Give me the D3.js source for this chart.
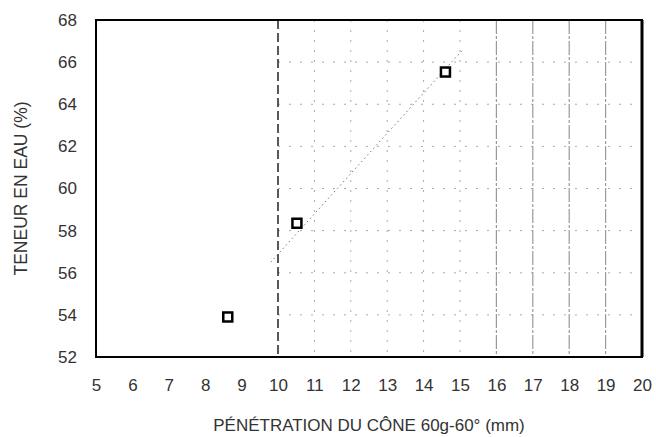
<!DOCTYPE html>
<html><head><meta charset="utf-8">
<script src="https://cdn.jsdelivr.net/npm/d3@7"></script>
<style>body{margin:0;background:#fff}svg{display:block}</style>
</head><body>
<svg id="c" width="656" height="437"></svg>
<script>
// data
const penetration = [8.62, 10.52, 14.6];
const waterContent = [53.9, 58.35, 65.53];
const trendX = [9.8, 15.05];
const trendY = [56.5, 66.54];
const xTicks = [5,6,7,8,9,10,11,12,13,14,15,16,17,18,19,20];
const yTicks = [52,54,56,58,60,62,64,66,68];
const liquidLimitX = [10];
const gridXLight = [11,12,13,14,15];
const gridXDark = [16,17,18,19];
const gridY = [54,56,58,60,62,64,66];

const svg = d3.select('#c');
const m = {l:96, r:642, t:20, b:357};
const x = d3.scaleLinear().domain([5,20]).range([m.l, m.r]);
const y = d3.scaleLinear().domain([52,68]).range([m.b, m.t]);
const font = '"Liberation Sans", Arial, sans-serif';

// grid
svg.append('g').selectAll('line').data(gridY).join('line')
  .attr('x1', x(10)).attr('x2', x(20)).attr('y1', d=>y(d)).attr('y2', d=>y(d))
  .attr('stroke', '#aaa').attr('stroke-width', 1).attr('stroke-dasharray', '2,9');
svg.append('g').selectAll('line').data(gridXLight).join('line')
  .attr('x1', d=>x(d)).attr('x2', d=>x(d)).attr('y1', y(68)).attr('y2', y(52))
  .attr('stroke', '#aaa').attr('stroke-width', 1).attr('stroke-dasharray', '2,8');
svg.append('g').selectAll('line').data(gridXDark).join('line')
  .attr('x1', d=>x(d)).attr('x2', d=>x(d)).attr('y1', y(68)).attr('y2', y(52))
  .attr('stroke', '#999').attr('stroke-width', 1.2).attr('stroke-dasharray', '14,2,3,2');

// liquid limit dashed line
svg.append('g').selectAll('line').data(liquidLimitX).join('line')
  .attr('x1', d=>x(d)).attr('x2', d=>x(d)).attr('y1', y(68)).attr('y2', y(52))
  .attr('stroke', '#222').attr('stroke-width', 1.5).attr('stroke-dasharray', '9,4');

// trend line
const tl = trendX.map((d,i)=>[d, trendY[i]]);
svg.append('path').datum(tl)
  .attr('d', d3.line().x(d=>x(d[0])).y(d=>y(d[1])))
  .attr('fill','none').attr('stroke','#777').attr('stroke-width',1).attr('stroke-dasharray','1.5,3');

// frame
svg.append('rect').attr('x', m.l).attr('y', m.t).attr('width', m.r-m.l).attr('height', m.b-m.t)
  .attr('fill','none').attr('stroke','#000').attr('stroke-width',2);
svg.append('line').attr('x1', m.r).attr('x2', m.r).attr('y1', m.t).attr('y2', m.b)
  .attr('stroke','#000').attr('stroke-width',3);

// axes
const xa = svg.append('g').attr('transform', `translate(0,${m.b})`)
  .call(d3.axisBottom(x).tickValues(xTicks).tickSize(0).tickPadding(22).tickFormat(d3.format('d')));
xa.select('.domain').remove();
xa.selectAll('text').attr('font-family', font).attr('font-size', 17).attr('fill', '#333');
const ya = svg.append('g').attr('transform', `translate(${m.l},0)`)
  .call(d3.axisLeft(y).tickValues(yTicks).tickSize(0).tickPadding(19).tickFormat(d3.format('d')));
ya.select('.domain').remove();
ya.selectAll('text').attr('font-family', font).attr('font-size', 17).attr('fill', '#333');

// points
const pts = penetration.map((d,i)=>[d, waterContent[i]]);
svg.append('g').selectAll('rect').data(pts).join('rect')
  .attr('x', d=>x(d[0])-4.5).attr('y', d=>y(d[1])-4.5).attr('width', 9).attr('height', 9)
  .attr('fill','#fff').attr('stroke','#000').attr('stroke-width',2.5);

// titles
svg.append('text').attr('x', (m.l+m.r)/2).attr('y', 431).attr('text-anchor','middle')
  .attr('font-family', font).attr('font-size', 17).attr('fill','#333')
  .text('PÉNÉTRATION DU CÔNE 60g-60° (mm)');
svg.append('text').attr('transform', `translate(27,${(m.t+m.b)/2}) rotate(-90)`)
  .attr('text-anchor','middle').attr('font-family', font).attr('font-size', 17.5).attr('fill','#333')
  .text('TENEUR EN EAU (%)');
</script>
</body></html>
